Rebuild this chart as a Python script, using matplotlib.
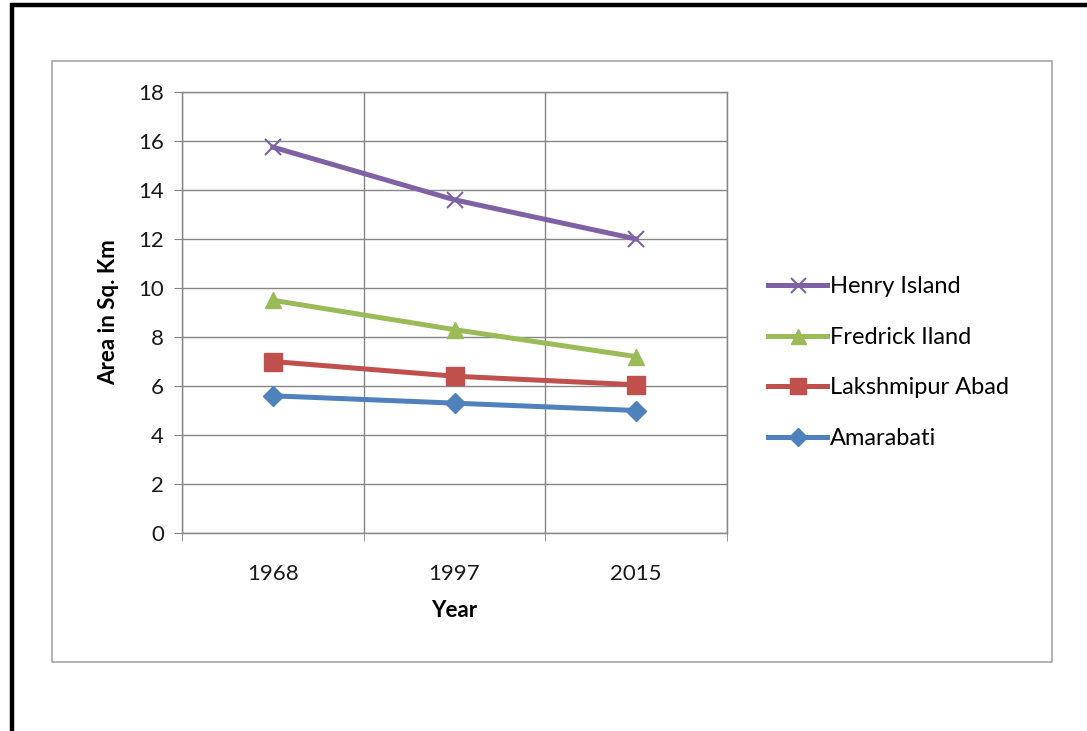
import numpy as np
import matplotlib.pyplot as plt
from matplotlib.patches import Rectangle

# data
years = ["1968", "1997", "2015"]
henry = [15.75, 13.6, 12.0]
fredrick = [9.5, 8.3, 7.2]
lakshmipur = [7.0, 6.4, 6.05]
amarabati = [5.6, 5.3, 5.0]

plt.rcParams['font.family'] = ['Lato', 'DejaVu Sans']

W, H = 1087, 731
fig = plt.figure(figsize=(W / 100, H / 100), dpi=100)

# outer black frame and grey chart frame
fig.patches.append(Rectangle((12 / W, -0.1), 1.2, 1.1 - 5 / H, transform=fig.transFigure,
                             fill=False, ec="black", lw=3.2))
fig.patches.append(Rectangle((52 / W, 1 - 662 / H), 1000 / W, 601 / H, transform=fig.transFigure,
                             fill=False, ec="#a6a6a6", lw=1.2))

ax = fig.add_axes([182 / W, 1 - 533 / H, 545 / W, 441 / H])
x = np.arange(1, len(years) + 1)

grey = "#868686"
ax.plot(x, henry, color="#7f62a6", lw=3.6, marker="x", ms=12, mew=1.5, label="Henry Island")
ax.plot(x, fredrick, color="#9bbb59", lw=3.6, marker="^", ms=12, label="Fredrick Iland")
ax.plot(x, lakshmipur, color="#c0504d", lw=3.6, marker="s", ms=13, label="Lakshmipur Abad")
ax.plot(x, amarabati, color="#4f81bd", lw=3.6, marker="D", ms=10, label="Amarabati")

ax.set_xlim(0.5, 3.5)
ax.set_ylim(0, 18)
ax.set_yticks(range(0, 19, 2))
ax.set_xticks(x)
ax.set_xticklabels(years)
ax.set_xticks([0.5, 1.5, 2.5, 3.5], minor=True)
ax.yaxis.grid(True, color=grey, lw=1)
ax.xaxis.grid(True, which="minor", color=grey, lw=1)
ax.set_axisbelow(True)
ax.tick_params(axis="x", which="major", length=0, pad=22, labelsize=16, colors="#1a1a1a")
ax.tick_params(axis="x", which="minor", length=6, color=grey, direction="out")
ax.tick_params(axis="y", length=6, color=grey, labelsize=16, pad=7, colors="#1a1a1a")
for s in ax.spines.values():
    s.set_color(grey)
    s.set_linewidth(1)

ax.set_xlabel("Year", fontsize=16, fontweight="bold", labelpad=12)
ax.set_ylabel("Area in Sq. Km", fontsize=16, fontweight="bold", labelpad=14)

ax.legend(loc="upper left", bbox_to_anchor=(759 / W, 1 - 267 / H), bbox_transform=fig.transFigure,
          frameon=False, fontsize=17, handlelength=2.5, handletextpad=0.1, labelspacing=1.25,
          borderaxespad=0, markerscale=0.9)

fig.savefig("out.png", dpi=100)
